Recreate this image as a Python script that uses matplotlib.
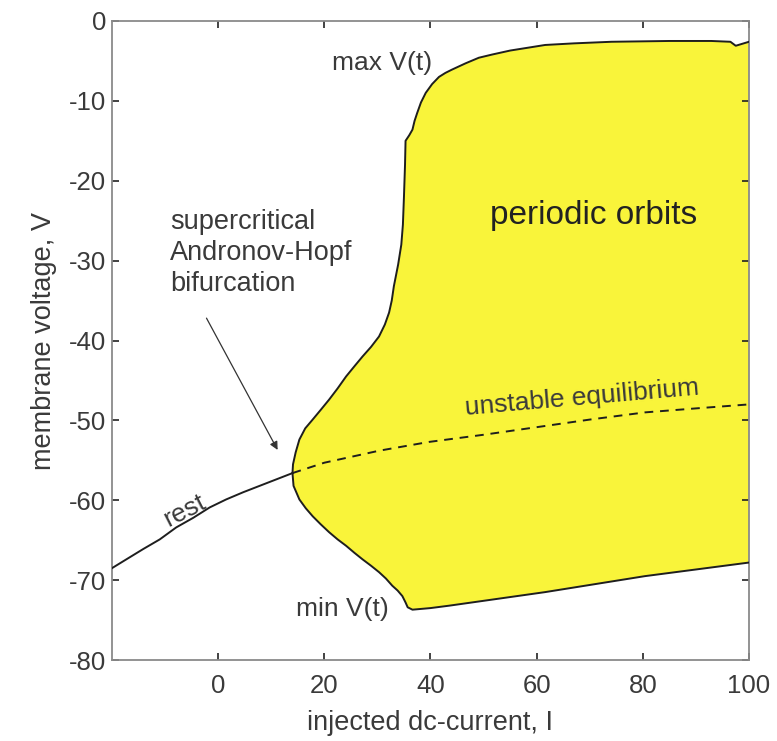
import matplotlib
matplotlib.use("Agg")
import matplotlib.pyplot as plt
from matplotlib.ticker import FixedLocator, FuncFormatter

plt.rcParams['font.family'] = ['Liberation Sans', 'DejaVu Sans']
plt.rcParams['axes.unicode_minus'] = False

# stable rest branch (below the Hopf point)
rest_I = [-20, -17.3, -14.1, -11.0, -7.9, -4.7, -1.6, 1.5, 4.7, 7.8, 10.9, 14.0]
rest_V = [-68.5, -67.4, -66.1, -64.9, -63.4, -62.2, -60.9, -59.9, -59.0, -58.2, -57.4, -56.6]

# unstable equilibrium branch (above the Hopf point)
unstable_I = [14.0, 20, 30.3, 39.7, 50, 61.6, 70, 80.4, 90, 100]
unstable_V = [-56.6, -55.3, -53.8, -52.7, -51.8, -50.7, -49.9, -49.0, -48.5, -48.0]

# maximum of V(t) along the periodic orbits
max_I = [14.0, 14.1, 14.6, 15.3, 16.4, 17.8, 19.3, 20.9, 22.5, 24.1, 25.7, 27.2,
         28.8, 30.3, 31.4, 32.2, 32.7, 33.1, 33.9, 34.5, 34.8, 35.0, 35.2, 35.3,
         36.0, 36.6, 37.0, 37.5, 38.2, 39.1, 40.3, 41.6, 42.8, 44.0, 46.6, 49.1,
         51.6, 55.0, 61.6, 67.0, 74.1, 85.0, 92.9, 96.5, 97.5, 98.5, 100]
max_V = [-56.6, -55.5, -54.0, -52.4, -51.0, -49.9, -48.7, -47.4, -46.0, -44.5, -43.2, -42.0,
         -40.8, -39.5, -38.0, -36.5, -35.0, -33.2, -30.5, -28.0, -25.5, -22.0, -18.0, -15.0,
         -14.3, -13.6, -12.5, -11.5, -10.2, -9.0, -7.9, -7.0, -6.5, -6.1, -5.3, -4.6,
         -4.2, -3.7, -3.0, -2.8, -2.6, -2.5, -2.5, -2.6, -3.1, -2.9, -2.6]

# minimum of V(t) along the periodic orbits
min_I = [14.0, 14.2, 15.3, 16.5, 17.8, 19.3, 20.9, 22.5, 24.1, 25.7, 27.2, 28.8,
         30.3, 31.6, 32.8, 33.8, 34.7, 35.3, 35.7, 36.6, 40.0, 43.5, 61.6, 80.4, 100]
min_V = [-56.6, -58.2, -59.9, -61.0, -62.0, -63.0, -64.0, -64.9, -65.7, -66.6, -67.4, -68.2,
         -69.0, -69.8, -70.7, -71.3, -72.0, -72.8, -73.4, -73.7, -73.5, -73.2, -71.5, -69.5, -67.8]

x_ticks = [0, 20, 40, 60, 80, 100]
y_ticks = [0, -10, -20, -30, -40, -50, -60, -70, -80]

text_color = '#3a3a3a'
spine_color = '#8a8a8a'
fill_color = '#F9F43A'
curve_color = '#1e1e1e'

fig = plt.figure(figsize=(7.77, 7.41), dpi=100)
ax = fig.add_axes([112 / 777, 1 - 660 / 741, (749 - 112) / 777, (660 - 21) / 741])

# region swept by the periodic orbits
env_I = max_I + min_I[::-1]
env_V = max_V + min_V[::-1]
ax.fill(env_I, env_V, color=fill_color, zorder=1, linewidth=0)
ax.plot(max_I, max_V, color=curve_color, lw=1.4, zorder=3, solid_joinstyle='round')
ax.plot(min_I, min_V, color=curve_color, lw=1.4, zorder=3, solid_joinstyle='round')

ax.plot(rest_I, rest_V, color=curve_color, lw=1.4, zorder=3)
ax.plot(unstable_I, unstable_V, color=curve_color, lw=1.4, zorder=3,
        linestyle=(0, (4.5, 3.5)))

ax.set_xlim(-20, 100)
ax.set_ylim(-80, 0)
ax.xaxis.set_major_locator(FixedLocator(x_ticks))
ax.yaxis.set_major_locator(FixedLocator(y_ticks))
ax.xaxis.set_major_formatter(FuncFormatter(lambda v, p: f"{v:g}"))
ax.yaxis.set_major_formatter(FuncFormatter(lambda v, p: f"{v:g}"))
ax.tick_params(direction='in', top=True, right=True, length=5, width=1.2,
               color='#222222', labelsize=18.5, labelcolor=text_color, pad=4)
ax.tick_params(axis='x', pad=10)
for s in ax.spines.values():
    s.set_color(spine_color)
    s.set_linewidth(1.3)

ax.set_xlabel('injected dc-current, I', fontsize=19.5, color=text_color, labelpad=9)
ax.set_ylabel('membrane voltage, V', fontsize=19.5, color=text_color, labelpad=9)

ax.text(21.5, -5.2, 'max V(t)', fontsize=19, color=text_color, ha='left', va='center')
ax.text(23.4, -73.6, 'min V(t)', fontsize=19, color=text_color, ha='center', va='center')
ax.text(70.7, -24.4, 'periodic orbits', fontsize=24, color='#222222', ha='center', va='center')
ax.text(-9.1, -29.0, 'supercritical\nAndronov-Hopf\nbifurcation', fontsize=19.5,
        color=text_color, ha='left', va='center', linespacing=1.25)
ax.text(-6.3, -61.3, 'rest', fontsize=19, color=text_color, ha='center', va='center',
        rotation=27, rotation_mode='anchor')
ax.text(68.5, -47.2, 'unstable equilibrium', fontsize=19, color=text_color,
        ha='center', va='center', rotation=5, rotation_mode='anchor')

ax.annotate('', xy=(11.2, -53.7), xytext=(-2.2, -37.2),
            arrowprops=dict(arrowstyle='-|>', color='#333333', lw=0.9,
                            mutation_scale=12, shrinkA=0, shrinkB=0))

fig.savefig('out.png', dpi=100)
